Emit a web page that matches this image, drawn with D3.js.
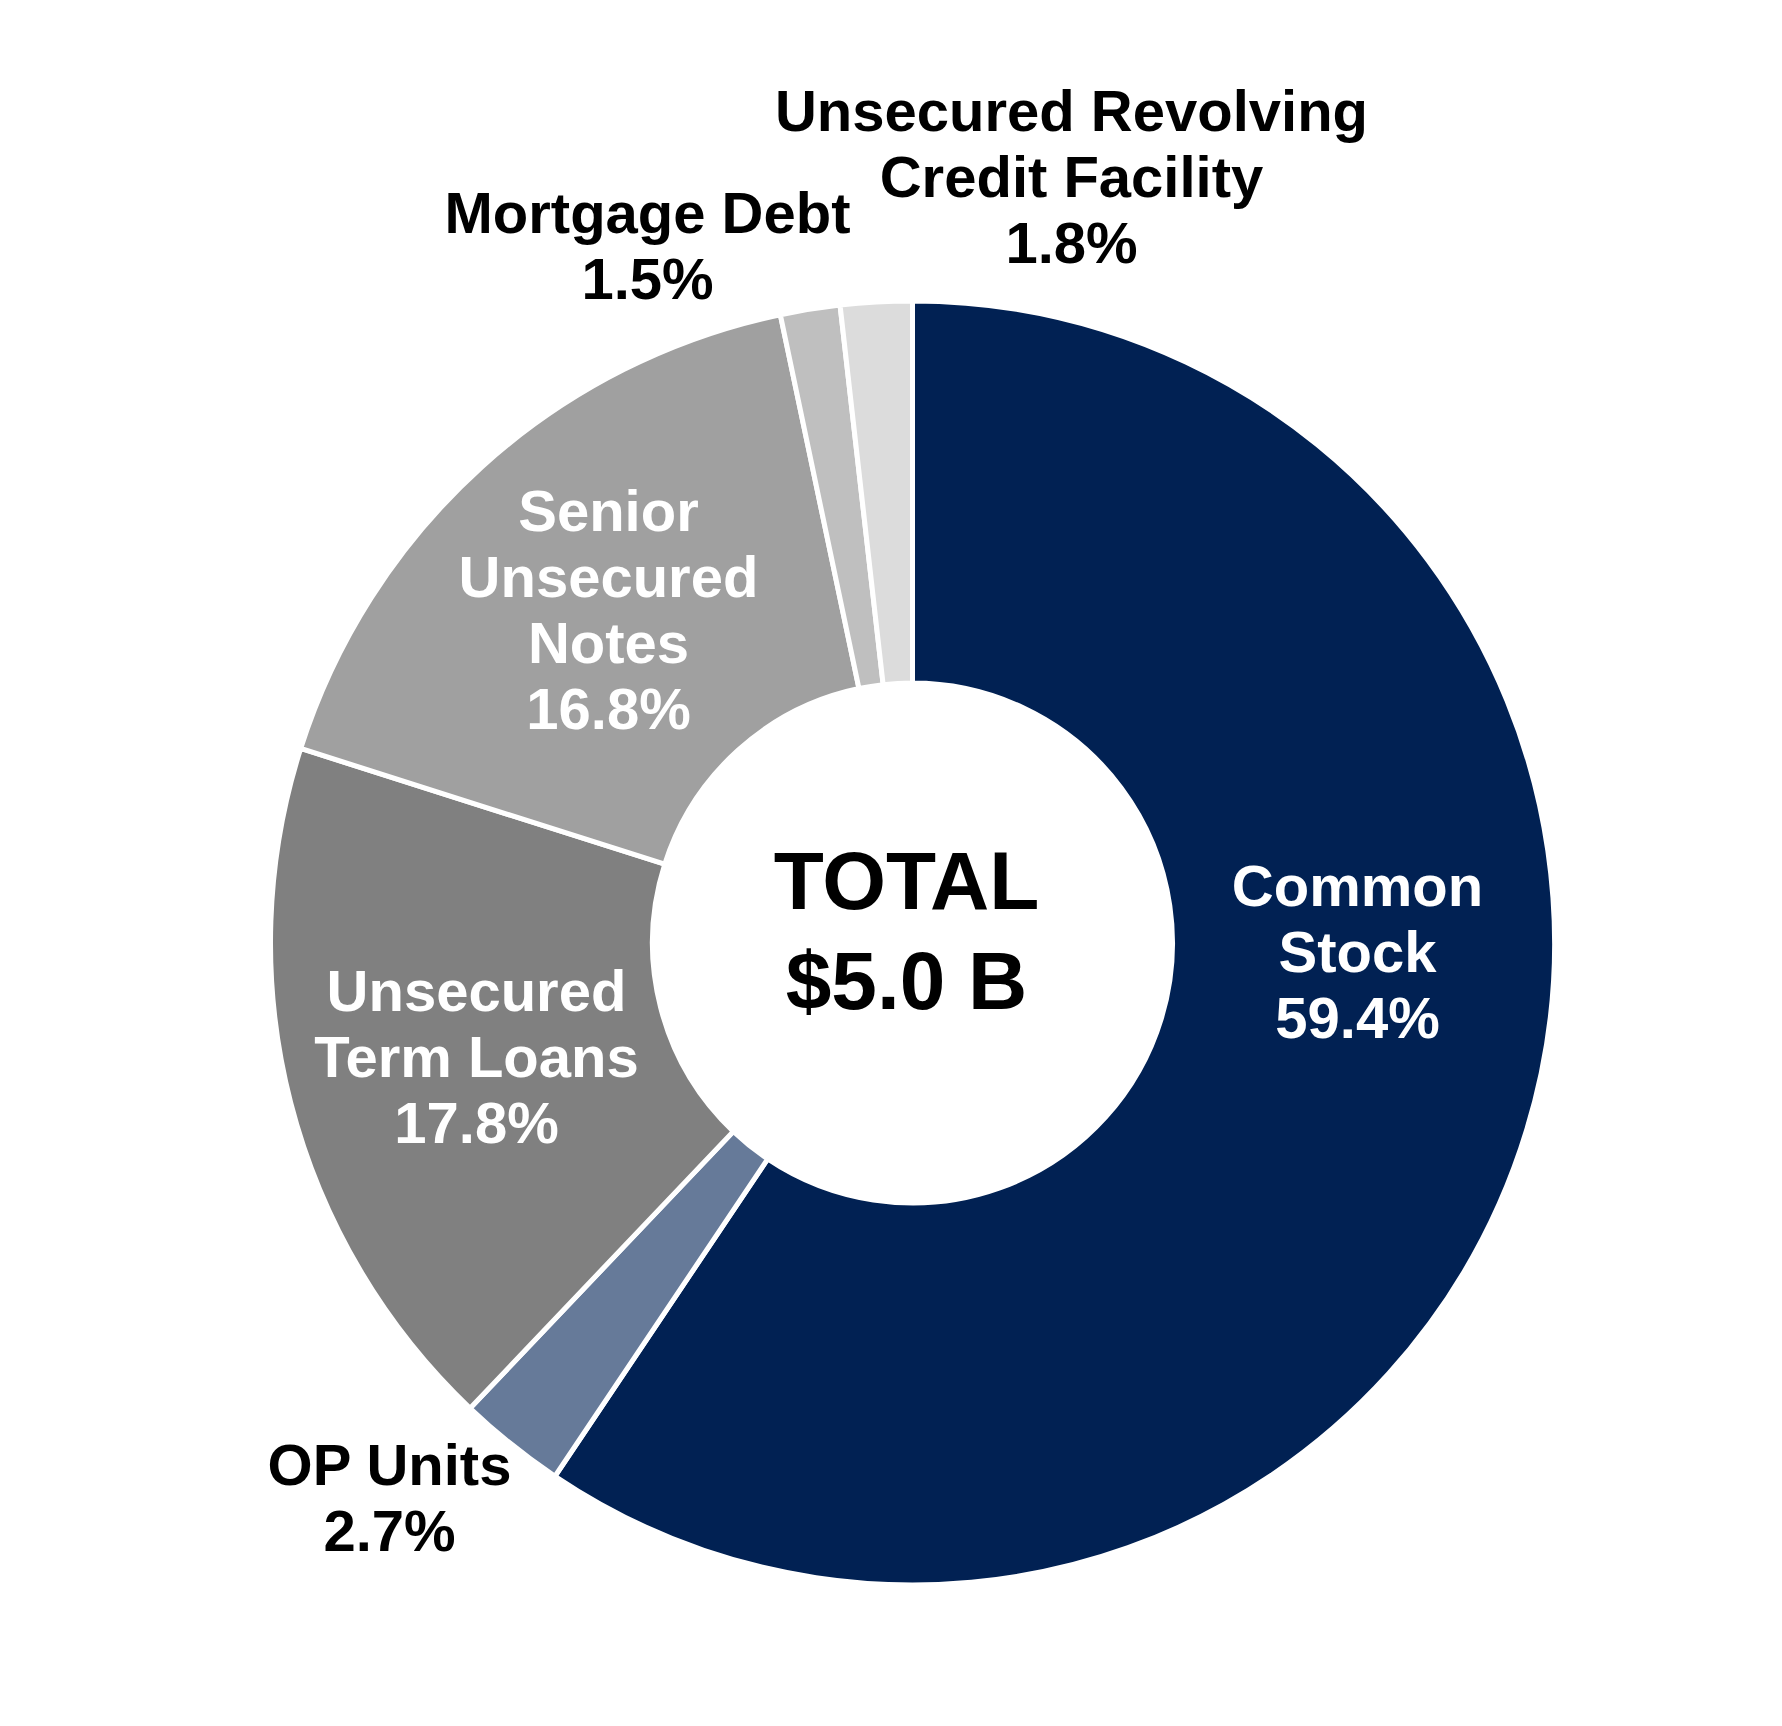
<!DOCTYPE html>
<html>
<head>
<meta charset="utf-8">
<script src="https://cdn.jsdelivr.net/npm/d3@7"></script>
<style>
  body { margin: 0; background: #fff; }
</style>
</head>
<body>
<div id="capital"></div>
<script>
// Data
var categories = ["Common Stock", "OP Units", "Unsecured Term Loans", "Senior Unsecured Notes", "Mortgage Debt", "Unsecured Revolving Credit Facility"];
var values = [59.4, 2.7, 17.8, 16.8, 1.5, 1.8];
var labelLines = [
  ["Common", "Stock"],
  ["OP Units"],
  ["Unsecured", "Term Loans"],
  ["Senior", "Unsecured", "Notes"],
  ["Mortgage Debt"],
  ["Unsecured Revolving", "Credit Facility"]
];
var centerLines = ["TOTAL", "$5.0 B"];

var colors = ["#012153", "#667a99", "#808080", "#a0a0a0", "#bfbfbf", "#dcdcdc"];
var textColors = ["#fff", "#000", "#fff", "#fff", "#000", "#000"];
// label anchor (x of center, y of first baseline), relative to the donut center
var labelPos = [[445, -37], [-523, 542], [-436, 68], [-304, -412], [-265, -710], [159, -812]];

var width = 1782, height = 1726;
var cx = 912.5, cy = 943;
var outerR = 642, innerR = 260;
var lineH = 66;

var svg = d3.select("#capital")
  .append("svg")
    .attr("width", width)
    .attr("height", height)
  .append("g")
    .attr("transform", "translate(" + cx + "," + cy + ")");

var data = categories.map(function(c, i) { return {name: c, value: values[i], i: i}; });

var pie = d3.pie()
  .sort(null)
  .value(function(d) { return d.value; });

var arc = d3.arc()
  .innerRadius(innerR)
  .outerRadius(outerR);

svg.selectAll("path")
  .data(pie(data))
  .enter().append("path")
    .attr("d", arc)
    .attr("fill", function(d) { return colors[d.data.i]; })
    .attr("stroke", "#fff")
    .attr("stroke-width", 5)
    .attr("stroke-linejoin", "miter");

var labels = svg.selectAll("text.lbl")
  .data(data)
  .enter().append("text")
    .attr("class", "lbl")
    .attr("text-anchor", "middle")
    .attr("font-family", "'Liberation Sans', Arial, sans-serif")
    .attr("font-weight", "bold")
    .attr("font-size", "58px")
    .attr("fill", function(d) { return textColors[d.i]; })
    .attr("transform", function(d) { return "translate(" + labelPos[d.i][0] + "," + labelPos[d.i][1] + ")"; });

labels.selectAll("tspan")
  .data(function(d) { return labelLines[d.i].concat([d3.format(".1f")(d.value) + "%"]); })
  .enter().append("tspan")
    .attr("x", 0)
    .attr("y", function(d, j) { return j * lineH; })
    .text(function(d) { return d; });

svg.append("text")
    .attr("text-anchor", "middle")
    .attr("font-family", "'Liberation Sans', Arial, sans-serif")
    .attr("font-weight", "bold")
    .attr("font-size", "82px")
    .attr("fill", "#000")
  .selectAll("tspan")
  .data(centerLines)
  .enter().append("tspan")
    .attr("x", -6)
    .attr("y", function(d, j) { return -34 + j * 100; })
    .text(function(d) { return d; });
</script>
</body>
</html>
